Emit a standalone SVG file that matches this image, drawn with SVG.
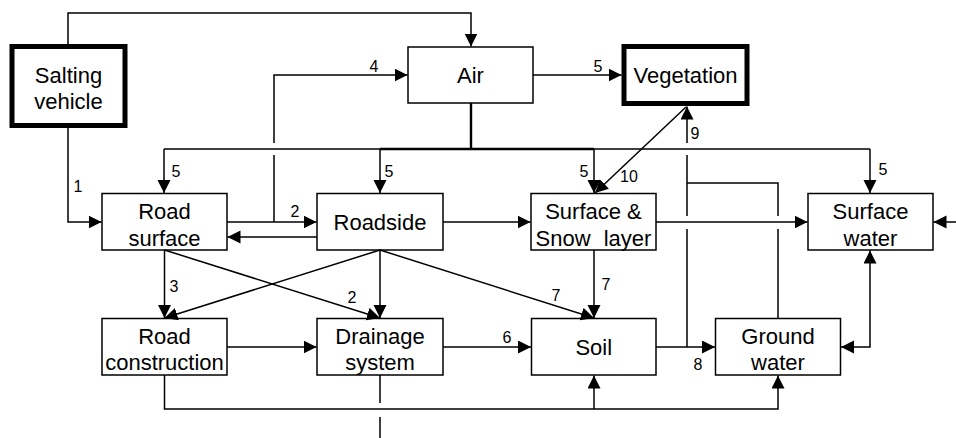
<svg xmlns="http://www.w3.org/2000/svg" width="956" height="438" viewBox="0 0 956 438">
<defs>
<style>
.box{fill:#fff;stroke:#000;stroke-width:1.5}
.thick{stroke-width:5}
.t{font-family:"Liberation Sans",Arial,sans-serif;font-size:22px;fill:#000;text-anchor:middle}
.n{font-family:"Liberation Sans",Arial,sans-serif;font-size:16px;fill:#000;text-anchor:middle}
.c path{fill:none;stroke:#000;stroke-width:1.5}
.c path.a{marker-end:url(#ah)}
.c path.b{marker-start:url(#ahs);marker-end:url(#ah)}
.c path.bold{stroke-width:2.4}
</style>
<marker id="ah" markerUnits="userSpaceOnUse" markerWidth="14" markerHeight="14" refX="13" refY="6.5" orient="auto"><path d="M0,0 L13,6.5 L0,13 z" fill="#000"/></marker>
<marker id="ahs" markerUnits="userSpaceOnUse" markerWidth="14" markerHeight="14" refX="13" refY="6.5" orient="auto-start-reverse"><path d="M0,0 L13,6.5 L0,13 z" fill="#000"/></marker>
</defs>
<rect width="956" height="438" fill="#fff"/>

<g id="salting-vehicle"><rect class="box thick" x="12" y="46.5" width="113" height="79"/><text class="t" x="68.5" y="83">Salting</text><text class="t" x="68.5" y="109">vehicle</text></g>
<g id="air"><rect class="box" x="408" y="47" width="125" height="56"/><text class="t" x="470.5" y="83">Air</text></g>
<g id="vegetation"><rect class="box thick" x="624" y="46.5" width="123" height="57"/><text class="t" x="685.5" y="83">Vegetation</text></g>
<g id="road-surface"><rect class="box" x="102" y="193.5" width="125" height="56.5"/><text class="t" x="164.5" y="219">Road</text><text class="t" x="164.5" y="245.5">surface</text></g>
<g id="roadside"><rect class="box" x="317" y="193.5" width="126" height="56.5"/><text class="t" x="380" y="230">Roadside</text></g>
<g id="surface-snow"><rect class="box" x="531" y="193.5" width="125" height="56.5"/><text class="t" x="593.5" y="219">Surface &amp;</text><text class="t" x="593.5" y="245.5" word-spacing="7">Snow layer</text></g>
<g id="surface-water"><rect class="box" x="808" y="193.5" width="125" height="56.5"/><text class="t" x="870.5" y="219">Surface</text><text class="t" x="870.5" y="245.5">water</text></g>
<g id="road-construction"><rect class="box" x="102" y="318.5" width="125" height="56.5"/><text class="t" x="164.5" y="344">Road</text><text class="t" x="164.5" y="370">construction</text></g>
<g id="drainage-system"><rect class="box" x="317" y="318.5" width="126" height="56.5"/><text class="t" x="380" y="344">Drainage</text><text class="t" x="380" y="370">system</text></g>
<g id="soil"><rect class="box" x="531.5" y="318.5" width="124.5" height="56.5"/><text class="t" x="593.75" y="355">Soil</text></g>
<g id="ground-water"><rect class="box" x="715.5" y="318.5" width="125" height="56.5"/><text class="t" x="778" y="343.5">Ground</text><text class="t" x="778" y="369.5">water</text></g>

<g id="connectors" class="c">
<path class="a" d="M68,44 V13 H471 V46.5"/>
<path class="a" d="M68,128 V222 H101.5"/>
<path class="a" d="M227,222 H316.5"/>
<path class="a" d="M274,222 V155 M274,143 V75 H407.5"/>
<path class="a" d="M317,237 H227.5"/>
<path class="a" d="M533,75 H621.5"/>
<path d="M164,149 H870"/>
<path class="bold" d="M471,103 V149 M380,149 H594"/>
<path class="a" d="M164,149 V193"/>
<path class="a" d="M380,149 V193"/>
<path class="a" d="M594,149 V193"/>
<path class="a" d="M870,149 V193"/>
<path class="a" d="M687,347 V229 M687,216 V155 M687,143 V106.5"/>
<path d="M778,318 V229 M778,216 V183 H687"/>
<path class="a" d="M686,107 L595,193"/>
<path class="a" d="M443,222 H530.5"/>
<path class="a" d="M656,222 H807.5"/>
<path class="a" d="M956,222 H933.5"/>
<path class="a" d="M164.5,250 V318"/>
<path class="a" d="M164.5,250 L380,318"/>
<path class="a" d="M380,250 L164.5,318"/>
<path class="a" d="M380,250 V318"/>
<path class="a" d="M380,250 L594,318"/>
<path class="a" d="M594,250 V318"/>
<path class="a" d="M227,347 H316.5"/>
<path class="a" d="M443,347 H531"/>
<path class="a" d="M656,347 H715"/>
<path class="b" d="M841,347 H870 V250.5"/>
<path class="a" d="M164.5,375 V409 H778 V375.5"/>
<path class="a" d="M594,409 V375.5"/>
<path d="M380,375 V403 M380,417 V438"/>
</g>

<g id="labels">
<text class="n" x="374" y="72">4</text>
<text class="n" x="598" y="72">5</text>
<text class="n" x="695" y="139">9</text>
<text class="n" x="176" y="177">5</text>
<text class="n" x="389" y="177">5</text>
<text class="n" x="584" y="177">5</text>
<text class="n" x="629" y="182">10</text>
<text class="n" x="883" y="175">5</text>
<text class="n" x="78" y="192">1</text>
<text class="n" x="295" y="217">2</text>
<text class="n" x="174" y="292">3</text>
<text class="n" x="352" y="303">2</text>
<text class="n" x="556" y="301">7</text>
<text class="n" x="606" y="290">7</text>
<text class="n" x="507" y="343">6</text>
<text class="n" x="698" y="370">8</text>
</g>
</svg>
